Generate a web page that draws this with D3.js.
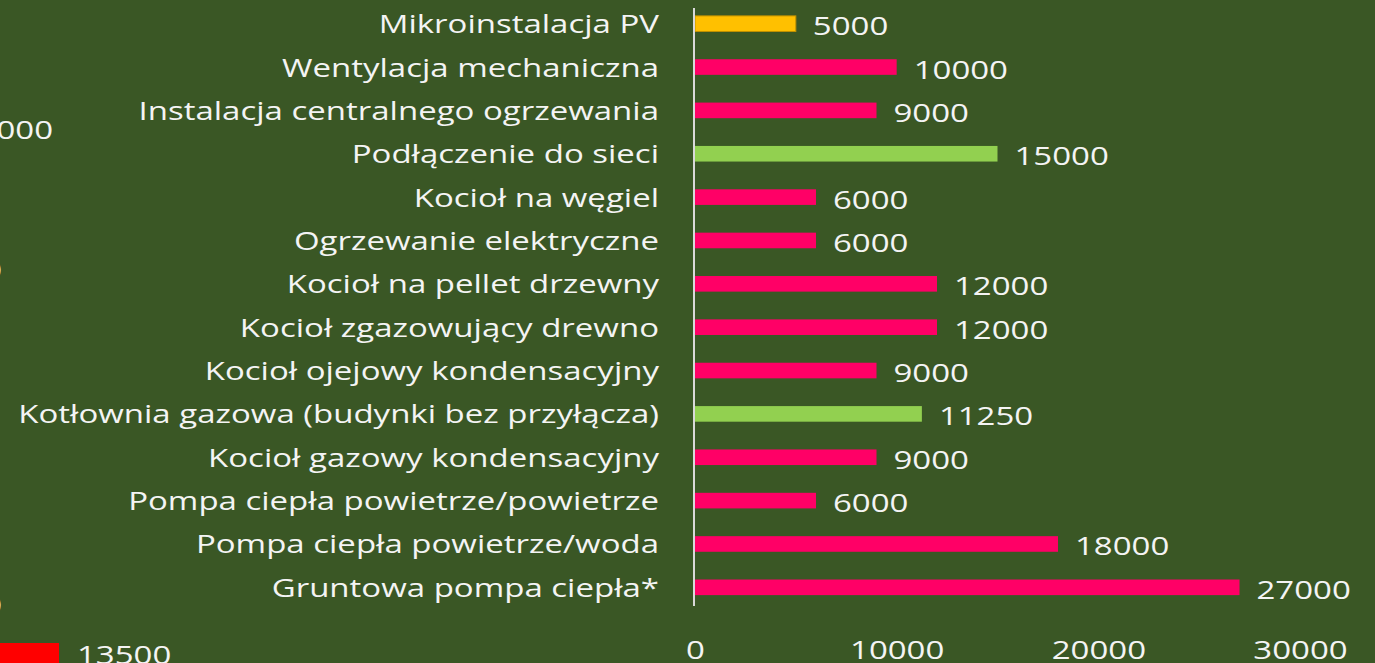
<!DOCTYPE html>
<html lang="pl">
<head>
  <meta charset="UTF-8">
  <title>Koszty instalacji</title>
<style>
  html, body { margin: 0; padding: 0; background: #3a5725; overflow: hidden; }
  svg { display: block; }
  text { font-family: "Open Sans", sans-serif; fill: #f4f4f4; font-size: 25px; }
</style>
</head>
<body>

<svg id="chart" width="1375" height="663"></svg>

<script src="https://d3js.org/d3.v7.min.js"></script>

<script>

// categories from top to bottom
var categories = [
  "Mikroinstalacja PV",
  "Wentylacja mechaniczna",
  "Instalacja centralnego ogrzewania",
  "Podłączenie do sieci ",
  "Kocioł na węgiel",
  "Ogrzewanie elektryczne",
  "Kocioł na pellet drzewny",
  "Kocioł zgazowujący drewno",
  "Kocioł ojejowy kondensacyjny",
  "Kotłownia gazowa (budynki bez przyłącza)",
  "Kocioł gazowy kondensacyjny",
  "Pompa ciepła powietrze/powietrze",
  "Pompa ciepła powietrze/woda ",
  "Gruntowa pompa ciepła*"
];
var values = [5000, 10000, 9000, 15000, 6000, 6000, 12000, 12000, 9000, 11250, 9000, 6000, 18000, 27000];
var groups = ["pv", "inst", "inst", "net", "inst", "inst", "inst", "inst", "inst", "net", "inst", "inst", "inst", "inst"];
var xTicks = [0, 10000, 20000, 30000];

// pieces of the neighbouring chart cut off at the left edge
var leftLabels = ["10000", "0", "0"];
var leftValues = [13500];

var svg = d3.select("#chart"),
  width = +svg.attr("width"),
  height = +svg.attr("height"),
  sx = 1.32; // text in the picture is drawn wider than it is tall

var color = d3.scaleOrdinal()
  .domain(["pv", "inst", "net"])
  .range(["#ffc000", "#ff0066", "#92d050"]);

var x = d3.scaleLinear().domain([0, 30000]).range([695, 1300]);
var y = d3.scaleBand().domain(categories).range([2, 609]).paddingInner(0.64).paddingOuter(0.32);

// stretch a text sideways, keeping its anchor point
function widen(sel) {
  sel.each(function () {
    var t = d3.select(this),
      tx = +t.attr("x") || 0,
      ty = +t.attr("y") || 0;
    t.attr("x", 0).attr("y", 0)
      .attr("transform", "translate(" + tx + "," + ty + ") scale(" + sx + ",1)");
  });
}

// bars
svg.append("g").selectAll("rect")
  .data(categories)
  .enter().append("rect")
    .attr("x", x(0))
    .attr("y", function (d) { return y(d); })
    .attr("width", function (d, i) { return x(values[i]) - x(0); })
    .attr("height", y.bandwidth())
    .attr("fill", function (d, i) { return color(groups[i]); })
    .attr("stroke", function (d, i) { return groups[i] == "pv" ? "#c09100" : "none"; })
    .attr("stroke-width", 1);

// value labels
svg.append("g").selectAll("text")
  .data(categories)
  .enter().append("text")
    .attr("x", function (d, i) { return x(values[i]) + 17; })
    .attr("y", function (d) { return y(d) + y.bandwidth() / 2 + 2.5; })
    .attr("dy", "0.36em")
    .text(function (d, i) { return values[i]; })
    .call(widen);

// category axis
var yAxis = svg.append("g")
  .attr("transform", "translate(" + x(0) + ",1.5)")
  .call(d3.axisLeft(y).tickSize(0).tickPadding(36));
yAxis.select(".domain").remove();
yAxis.append("line")
  .attr("x1", -1).attr("x2", -1)
  .attr("y1", 6.5).attr("y2", 604.5)
  .attr("stroke", "#d9d9d9")
  .attr("stroke-width", 2);
yAxis.selectAll(".tick text")
  .attr("fill", null)
  .call(widen);
yAxis.attr("font-size", null).attr("font-family", null);

// value axis
var xAxis = svg.append("g")
  .attr("transform", "translate(0,627)")
  .call(d3.axisBottom(x).tickValues(xTicks).tickSize(0).tickPadding(14).tickFormat(d3.format("d")));
xAxis.select(".domain").remove();
xAxis.attr("font-size", null).attr("font-family", null);
xAxis.selectAll(".tick text")
  .attr("fill", null)
  .call(widen);

// left edge fragments
var fy = [130, 270, 605];
svg.append("g").selectAll("text")
  .data(leftLabels)
  .enter().append("text")
    .attr("x", function (d, i) { return i == 0 ? 53 : 2; })
    .attr("y", function (d, i) { return fy[i]; })
    .attr("dy", "0.36em")
    .attr("text-anchor", "end")
    .text(function (d) { return d; })
    .call(widen);

var fx = d3.scaleLinear().domain([0, 13500]).range([-120, 59]);
svg.append("g").selectAll("rect")
  .data(leftValues)
  .enter().append("rect")
    .attr("x", fx(0))
    .attr("y", 643)
    .attr("width", function (d) { return fx(d) - fx(0); })
    .attr("height", 20)
    .attr("fill", "#ff0000");
svg.append("g").selectAll("text")
  .data(leftValues)
  .enter().append("text")
    .attr("x", function (d) { return fx(d) + 18; })
    .attr("y", 655)
    .attr("dy", "0.36em")
    .text(function (d) { return d; })
    .call(widen);

</script>

</body>
</html>
